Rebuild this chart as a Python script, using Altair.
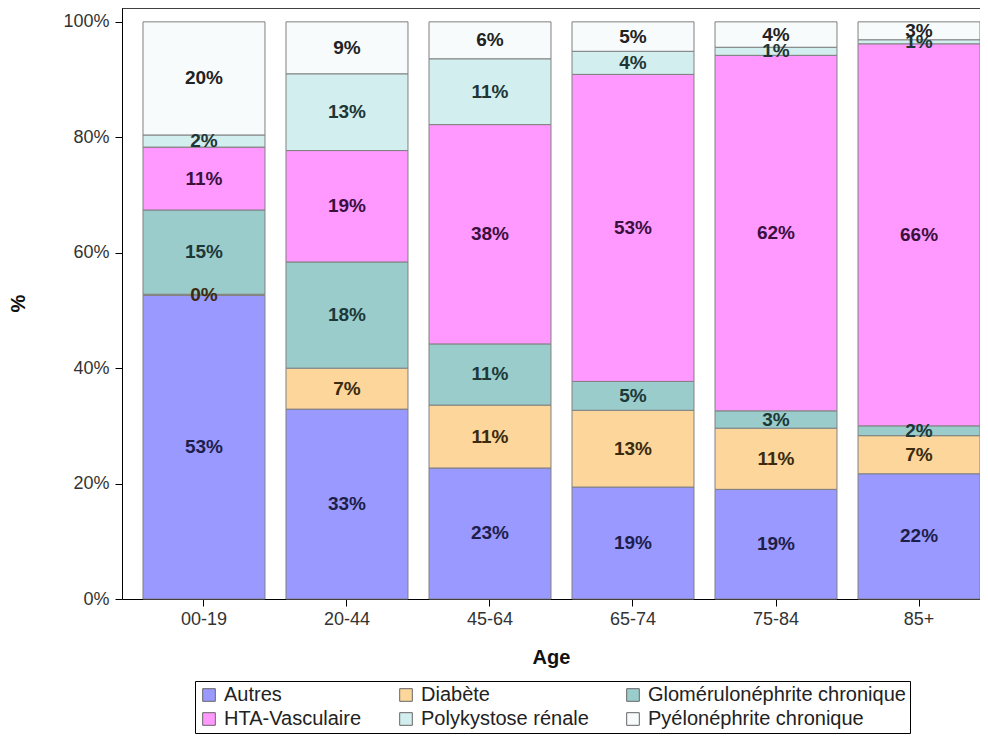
import altair as alt
import pandas as pd

ages = ["00-19", "20-44", "45-64", "65-74", "75-84", "85+"]
causes = ["Autres", "Diabète", "Glomérulonéphrite chronique",
          "HTA-Vasculaire", "Polykystose rénale", "Pyélonéphrite chronique"]

autres = [52.6, 32.9, 22.7, 19.4, 19.0, 21.7]
diabete = [0.2, 7.1, 10.9, 13.3, 10.6, 6.6]
glom = [14.6, 18.4, 10.6, 5.0, 3.0, 1.7]
hta = [10.9, 19.3, 38.0, 53.2, 61.6, 66.2]
poly = [2.1, 13.3, 11.4, 4.0, 1.4, 0.7]
pyelo = [19.6, 9.0, 6.4, 5.1, 4.4, 3.1]

y_ticks = [0, 20, 40, 60, 80, 100]

fill_colors = ["#9999FF", "#FCD69A", "#9ACCCB", "#FF99FF", "#D3EEEE", "#F7FBFB"]
text_colors = ["#1E1E4A", "#3A2A10", "#1C3838", "#3A103E", "#1E3636", "#222222"]

series = [autres, diabete, glom, hta, poly, pyelo]
rows = []
for ci, (cause, vals) in enumerate(zip(causes, series)):
    for age, v in zip(ages, vals):
        rows.append({"age": age, "cause": cause, "ord": ci, "pct": v})
df = pd.DataFrame(rows)

W, H = 858, 591
FONT = "Liberation Sans"

base = alt.Chart(df).transform_stack(
    stack="pct", groupby=["age"], sort=[alt.SortField("ord", order="ascending")],
    as_=["p0", "p1"]
).transform_calculate(
    mid="(datum.p0 + datum.p1) / 2",
    lab="format(datum.pct, '.0f') + '%'"
)

xscale = alt.Scale(domain=ages, paddingInner=0.147, paddingOuter=0.0734, align=1)
yscale = alt.Scale(domain=[0, 102.4], nice=False, zero=True)

bars = base.mark_bar(stroke="#808080", strokeWidth=1).encode(
    x=alt.X("age:N", sort=ages, scale=xscale,
            axis=alt.Axis(title="Age", labelAngle=0, tickSize=7, labelPadding=4,
                          titleY=48, titleFontSize=20, titleFontWeight="bold",
                          labelFontSize=18, titleFont=FONT, labelFont=FONT)),
    y=alt.Y("p0:Q", scale=yscale,
            axis=alt.Axis(title="%", values=y_ticks, labelExpr="datum.value + '%'",
                          tickSize=7, labelPadding=6, grid=False,
                          titleX=-104, titleY=295, titleBaseline="middle",
                          titleFontSize=20, titleFontWeight="bold",
                          labelFontSize=18, titleFont=FONT, labelFont=FONT)),
    y2="p1:Q",
    color=alt.Color("cause:N", scale=alt.Scale(domain=causes, range=fill_colors),
                    legend=alt.Legend(title=None, orient="none", legendX=73, legendY=673,
                                      direction="horizontal", columns=3,
                                      strokeColor="#000000", padding=4,
                                      labelFont=FONT, labelFontSize=20, labelColor="#222222",
                                      labelOffset=5,
                                      symbolType="square", symbolSize=160,
                                      symbolStrokeColor="#666666", symbolStrokeWidth=1,
                                      columnPadding=34, rowPadding=4, labelLimit=400)),
    order=alt.Order("ord:Q"),
)

labels = base.mark_text(font=FONT, fontWeight="bold", fontSize=19, baseline="middle").encode(
    x=alt.X("age:N", sort=ages, scale=xscale),
    y=alt.Y("mid:Q", scale=yscale),
    text="lab:N",
    fill=alt.Fill("cause:N", scale=alt.Scale(domain=causes, range=text_colors), legend=None),
)

frame = alt.Chart(pd.DataFrame({"a": [0]})).mark_rule(color="#000000", strokeWidth=1.5).encode(
    x=alt.value(0), x2=alt.value(W), y=alt.value(0)
)

chart = alt.layer(bars, labels, frame).properties(
    width=W, height=H,
    autosize=alt.AutoSizeParams(type="none"),
    padding={"left": 114, "top": 0, "right": 0, "bottom": 137},
).configure_view(stroke=None).configure_axis(
    domainColor="#000000", tickColor="#000000", labelColor="#333333", titleColor="#111111"
)

chart.save("out.html", embed_options={"renderer": "svg", "actions": False})
